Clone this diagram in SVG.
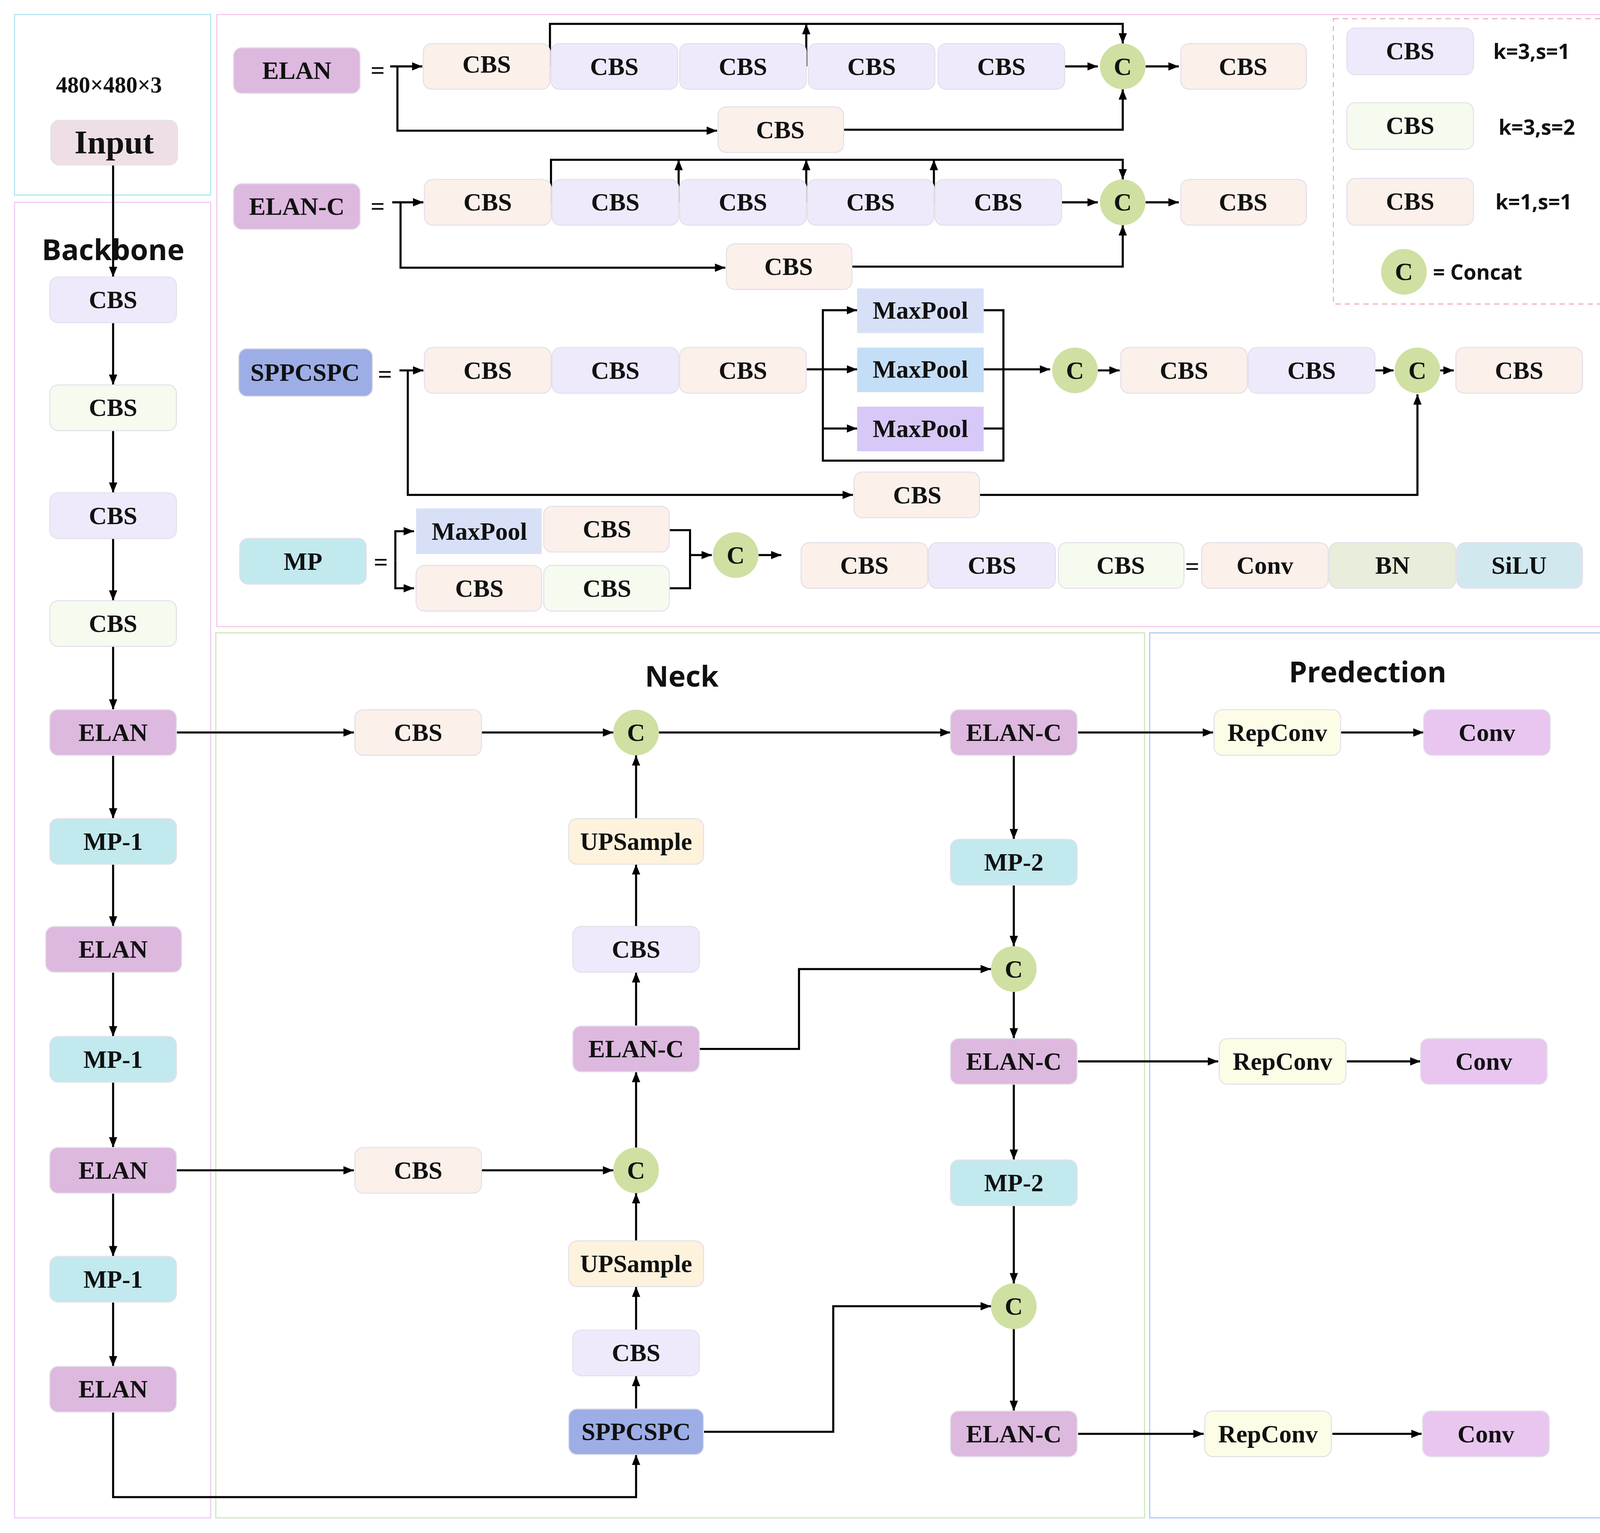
<svg xmlns="http://www.w3.org/2000/svg" width="4152" height="3925" viewBox="0 0 4152 3925">
<style>
.t{font-family:"Liberation Serif","Times New Roman",serif;font-weight:bold;font-size:24px;fill:#111;text-anchor:middle;dominant-baseline:central}
.s{font-family:"Open Sans","Liberation Sans",sans-serif;font-weight:bold;fill:#111;dominant-baseline:central}
.b{stroke:#e4e0ea;stroke-width:1}
.lav{fill:#EEEAFB}.grn{fill:#F6FBF0}.pch{fill:#FBF0EA}.elan{fill:#DDB8DF}.mp{fill:#C2E9EE}.spp{fill:#9DAEE6}
.cc{fill:#CFE0A2}.ups{fill:#FDF2DC}.rep{fill:#FDFCE6}.conv{fill:#E8C6F0}
.ln{fill:none;stroke:#000;stroke-width:2}
.a{marker-end:url(#ar)}
</style>
<defs>
<marker id="ar" markerUnits="userSpaceOnUse" markerWidth="10" markerHeight="8" refX="10" refY="4" orient="auto"><path d="M0,0 L10,4 L0,8 z" fill="#000"/></marker>
</defs>
<rect width="4152" height="3925" fill="#fff"/>
<g transform="scale(2.6564)">
<!-- panels -->
<g id="panels" fill="none">
<rect x="14" y="14" width="189" height="174" stroke="#a8e4f4"/>
<rect x="14" y="195" width="189" height="1268" stroke="#eac8f2"/>
<rect x="209" y="14" width="1343" height="590" stroke="#f5c4e6"/>
<rect x="208" y="610" width="895" height="853" stroke="#c8e6b0"/>
<rect x="1108" y="610" width="442" height="853" stroke="#a8c6f0"/>
<rect x="1285" y="18" width="262" height="275" stroke="#f0a8c0" stroke-dasharray="5,4"/>
</g>
<text class="t" x="105" y="82" style="font-size:22px">480×480×3</text>
<text class="s" x="109" y="240" text-anchor="middle" style="font-size:28px">Backbone</text>
<text class="s" x="657" y="651" text-anchor="middle" style="font-size:28px">Neck</text>
<text class="s" x="1318" y="647" text-anchor="middle" style="font-size:28px">Predection</text>

<!-- connectors -->
<g id="connectors">
<path class="ln a" d="M109,159 V267"/>
<path class="ln a" d="M109,311 V371"/>
<path class="ln a" d="M109,415 V475"/>
<path class="ln a" d="M109,519 V579"/>
<path class="ln a" d="M109,623 V684"/>
<path class="ln a" d="M109,728 V789"/>
<path class="ln a" d="M109,833 V893"/>
<path class="ln a" d="M109,937 V999"/>
<path class="ln a" d="M109,1043 V1106"/>
<path class="ln a" d="M109,1150 V1211"/>
<path class="ln a" d="M109,1255 V1317"/>
<path class="ln a" d="M109,1361 V1443 H613 V1402"/>
<path class="ln a" d="M170,706 H341"/>
<path class="ln a" d="M464,706 H591"/>
<path class="ln a" d="M635,706 H916"/>
<path class="ln a" d="M1039,706 H1169"/>
<path class="ln a" d="M1292,706 H1372"/>
<path class="ln a" d="M613,789 V728"/>
<path class="ln a" d="M613,893 V833"/>
<path class="ln a" d="M613,989 V937"/>
<path class="ln a" d="M613,1106 V1033"/>
<path class="ln a" d="M170,1128 H341"/>
<path class="ln a" d="M464,1128 H591"/>
<path class="ln a" d="M613,1196 V1150"/>
<path class="ln a" d="M613,1282 V1240"/>
<path class="ln a" d="M613,1358 V1326"/>
<path class="ln a" d="M977,728 V809"/>
<path class="ln a" d="M977,853 V912"/>
<path class="ln a" d="M977,956 V1001"/>
<path class="ln a" d="M977,1045 V1118"/>
<path class="ln a" d="M977,1162 V1237"/>
<path class="ln a" d="M977,1281 V1360"/>
<path class="ln a" d="M674,1011 H770 V934 H955"/>
<path class="ln a" d="M678,1380 H803 V1259 H955"/>
<path class="ln a" d="M1039,1023 H1174"/>
<path class="ln a" d="M1298,1023 H1369"/>
<path class="ln a" d="M1039,1382 H1160"/>
<path class="ln a" d="M1284,1382 H1370"/>
<!-- ELAN def -->
<path class="ln a" d="M376,64 H407"/>
<path class="ln a" d="M383,64 V126 H691"/>
<path class="ln a" d="M1026,64 H1058"/>
<path class="ln a" d="M1104,64 H1136"/>
<path class="ln a" d="M530,64 V23 H1082 V42"/>
<path class="ln a" d="M777,64 V23"/>
<path class="ln a" d="M813,125 H1082 V86"/>
<!-- ELAN-C def -->
<path class="ln a" d="M378,195 H408"/>
<path class="ln a" d="M386,195 V258 H699"/>
<path class="ln a" d="M1023,195 H1058"/>
<path class="ln a" d="M1104,195 H1136"/>
<path class="ln a" d="M531,195 V154 H1082 V173"/>
<path class="ln a" d="M654,195 V154"/>
<path class="ln a" d="M777,195 V154"/>
<path class="ln a" d="M900,195 V154"/>
<path class="ln a" d="M821,257 H1082 V217"/>
<!-- SPPCSPC def -->
<path class="ln a" d="M385,357 H408"/>
<path class="ln a" d="M393,357 V477 H822"/>
<path class="ln a" d="M777,356 H826"/>
<path class="ln a" d="M793,356 V299 H826"/>
<path class="ln a" d="M793,356 V413 H826"/>
<path class="ln" d="M793,413 V444 H967 V299 H948 M948,413 H967"/>
<path class="ln a" d="M948,356 H1012"/>
<path class="ln a" d="M1058,357 H1079"/>
<path class="ln a" d="M1325,357 H1343"/>
<path class="ln a" d="M1388,357 H1401"/>
<path class="ln a" d="M944,477 H1366 V380"/>
<!-- MP def -->
<path class="ln a" d="M381,540 V512 H399"/>
<path class="ln a" d="M381,540 V567 H399"/>
<path class="ln" d="M645,511 H665 V567 H645"/>
<path class="ln a" d="M665,535 H686"/>
<path class="ln a" d="M731,535 H753"/>
</g>

<!-- backbone nodes -->
<g id="input"><rect class="b" x="49" y="116" width="122" height="43" rx="8" fill="#EEDFE6"/><text class="t" x="110" y="137" style="font-size:32px">Input</text></g>
<g id="bb-cbs1"><rect class="b lav" x="48" y="267" width="122" height="44" rx="8"/><text class="t" x="109" y="289">CBS</text></g>
<g id="bb-cbs2"><rect class="b grn" x="48" y="371" width="122" height="44" rx="8"/><text class="t" x="109" y="393">CBS</text></g>
<g id="bb-cbs3"><rect class="b lav" x="48" y="475" width="122" height="44" rx="8"/><text class="t" x="109" y="497">CBS</text></g>
<g id="bb-cbs4"><rect class="b grn" x="48" y="579" width="122" height="44" rx="8"/><text class="t" x="109" y="601">CBS</text></g>
<g id="bb-elan1"><rect class="b elan" x="48" y="684" width="122" height="44" rx="8"/><text class="t" x="109" y="706">ELAN</text></g>
<g id="bb-mp1"><rect class="b mp" x="48" y="789" width="122" height="44" rx="8"/><text class="t" x="109" y="811">MP-1</text></g>
<g id="bb-elan2"><rect class="b elan" x="44" y="893" width="131" height="44" rx="8"/><text class="t" x="109" y="915">ELAN</text></g>
<g id="bb-mp2"><rect class="b mp" x="48" y="999" width="122" height="44" rx="8"/><text class="t" x="109" y="1021">MP-1</text></g>
<g id="bb-elan3"><rect class="b elan" x="48" y="1106" width="122" height="44" rx="8"/><text class="t" x="109" y="1128">ELAN</text></g>
<g id="bb-mp3"><rect class="b mp" x="48" y="1211" width="122" height="44" rx="8"/><text class="t" x="109" y="1233">MP-1</text></g>
<g id="bb-elan4"><rect class="b elan" x="48" y="1317" width="122" height="44" rx="8"/><text class="t" x="109" y="1339">ELAN</text></g>

<!-- neck nodes -->
<g id="n-cbs1"><rect class="b pch" x="342" y="684" width="122" height="44" rx="8"/><text class="t" x="403" y="706">CBS</text></g>
<g id="n-c1"><circle class="cc" cx="613" cy="706" r="22"/><text class="t" x="613" y="706">C</text></g>
<g id="n-up1"><rect class="b ups" x="548" y="789" width="130" height="44" rx="8"/><text class="t" x="613" y="811">UPSample</text></g>
<g id="n-cbs2"><rect class="b lav" x="552" y="893" width="122" height="44" rx="8"/><text class="t" x="613" y="915">CBS</text></g>
<g id="n-elanc1"><rect class="b elan" x="552" y="989" width="122" height="44" rx="8"/><text class="t" x="613" y="1011">ELAN-C</text></g>
<g id="n-c2"><circle class="cc" cx="613" cy="1128" r="22"/><text class="t" x="613" y="1128">C</text></g>
<g id="n-cbs3"><rect class="b pch" x="342" y="1106" width="122" height="44" rx="8"/><text class="t" x="403" y="1128">CBS</text></g>
<g id="n-up2"><rect class="b ups" x="548" y="1196" width="130" height="44" rx="8"/><text class="t" x="613" y="1218">UPSample</text></g>
<g id="n-cbs4"><rect class="b lav" x="552" y="1282" width="122" height="44" rx="8"/><text class="t" x="613" y="1304">CBS</text></g>
<g id="n-spp"><rect class="b spp" x="548" y="1358" width="130" height="44" rx="8"/><text class="t" x="613" y="1380">SPPCSPC</text></g>
<g id="n-elanc2"><rect class="b elan" x="916" y="684" width="122" height="44" rx="8"/><text class="t" x="977" y="706">ELAN-C</text></g>
<g id="n-mp2a"><rect class="b mp" x="916" y="809" width="122" height="44" rx="8"/><text class="t" x="977" y="831">MP-2</text></g>
<g id="n-c3"><circle class="cc" cx="977" cy="934" r="22"/><text class="t" x="977" y="934">C</text></g>
<g id="n-elanc3"><rect class="b elan" x="916" y="1001" width="122" height="44" rx="8"/><text class="t" x="977" y="1023">ELAN-C</text></g>
<g id="n-mp2b"><rect class="b mp" x="916" y="1118" width="122" height="44" rx="8"/><text class="t" x="977" y="1140">MP-2</text></g>
<g id="n-c4"><circle class="cc" cx="977" cy="1259" r="22"/><text class="t" x="977" y="1259">C</text></g>
<g id="n-elanc4"><rect class="b elan" x="916" y="1360" width="122" height="44" rx="8"/><text class="t" x="977" y="1382">ELAN-C</text></g>

<!-- prediction -->
<g id="p-rep1"><rect class="b rep" x="1170" y="684" width="122" height="44" rx="8"/><text class="t" x="1231" y="706">RepConv</text></g>
<g id="p-conv1"><rect class="b conv" x="1372" y="684" width="122" height="44" rx="8"/><text class="t" x="1433" y="706">Conv</text></g>
<g id="p-rep2"><rect class="b rep" x="1175" y="1001" width="122" height="44" rx="8"/><text class="t" x="1236" y="1023">RepConv</text></g>
<g id="p-conv2"><rect class="b conv" x="1369" y="1001" width="122" height="44" rx="8"/><text class="t" x="1430" y="1023">Conv</text></g>
<g id="p-rep3"><rect class="b rep" x="1161" y="1360" width="122" height="44" rx="8"/><text class="t" x="1222" y="1382">RepConv</text></g>
<g id="p-conv3"><rect class="b conv" x="1371" y="1360" width="122" height="44" rx="8"/><text class="t" x="1432" y="1382">Conv</text></g>

<!-- ELAN def -->
<g id="d-elan"><rect class="b elan" x="225" y="46" width="122" height="44" rx="8"/><text class="t" x="286" y="68">ELAN</text><text class="t" x="364" y="68">=</text></g>
<g id="d-elan-nodes">
<rect class="b pch" x="408" y="42" width="122" height="44" rx="8"/><text class="t" x="469" y="62">CBS</text>
<rect class="b lav" x="531" y="42" width="122" height="44" rx="8"/><text class="t" x="592" y="64">CBS</text>
<rect class="b lav" x="655" y="42" width="122" height="44" rx="8"/><text class="t" x="716" y="64">CBS</text>
<rect class="b lav" x="779" y="42" width="122" height="44" rx="8"/><text class="t" x="840" y="64">CBS</text>
<rect class="b lav" x="904" y="42" width="122" height="44" rx="8"/><text class="t" x="965" y="64">CBS</text>
<circle class="cc" cx="1082" cy="64" r="22"/><text class="t" x="1082" y="64">C</text>
<rect class="b pch" x="1138" y="42" width="121" height="44" rx="8"/><text class="t" x="1198" y="64">CBS</text>
<rect class="b pch" x="692" y="103" width="121" height="44" rx="8"/><text class="t" x="752" y="125">CBS</text>
</g>
<!-- ELAN-C def -->
<g id="d-elanc"><rect class="b elan" x="225" y="177" width="122" height="44" rx="8"/><text class="t" x="286" y="199">ELAN-C</text><text class="t" x="364" y="199">=</text></g>
<g id="d-elanc-nodes">
<rect class="b pch" x="409" y="173" width="122" height="44" rx="8"/><text class="t" x="470" y="195">CBS</text>
<rect class="b lav" x="532" y="173" width="122" height="44" rx="8"/><text class="t" x="593" y="195">CBS</text>
<rect class="b lav" x="655" y="173" width="122" height="44" rx="8"/><text class="t" x="716" y="195">CBS</text>
<rect class="b lav" x="778" y="173" width="122" height="44" rx="8"/><text class="t" x="839" y="195">CBS</text>
<rect class="b lav" x="901" y="173" width="122" height="44" rx="8"/><text class="t" x="962" y="195">CBS</text>
<circle class="cc" cx="1082" cy="195" r="22"/><text class="t" x="1082" y="195">C</text>
<rect class="b pch" x="1138" y="173" width="121" height="44" rx="8"/><text class="t" x="1198" y="195">CBS</text>
<rect class="b pch" x="700" y="235" width="121" height="44" rx="8"/><text class="t" x="760" y="257">CBS</text>
</g>
<!-- SPPCSPC def -->
<g id="d-spp"><rect class="b spp" x="230" y="336" width="129" height="46" rx="8"/><text class="t" x="294" y="359">SPPCSPC</text><text class="t" x="371" y="361">=</text></g>
<g id="d-spp-nodes">
<rect class="b pch" x="409" y="335" width="122" height="44" rx="8"/><text class="t" x="470" y="357">CBS</text>
<rect class="b lav" x="532" y="335" width="122" height="44" rx="8"/><text class="t" x="593" y="357">CBS</text>
<rect class="b pch" x="655" y="335" width="122" height="44" rx="8"/><text class="t" x="716" y="357">CBS</text>
<rect x="826" y="278" width="122" height="43" fill="#D8E0F8"/><text class="t" x="887" y="299">MaxPool</text>
<rect x="826" y="335" width="122" height="43" fill="#C5DEF7"/><text class="t" x="887" y="356">MaxPool</text>
<rect x="826" y="392" width="122" height="43" fill="#D8C8F7"/><text class="t" x="887" y="413">MaxPool</text>
<circle class="cc" cx="1036" cy="357" r="22"/><text class="t" x="1036" y="357">C</text>
<rect class="b pch" x="1080" y="335" width="122" height="44" rx="8"/><text class="t" x="1141" y="357">CBS</text>
<rect class="b lav" x="1203" y="335" width="122" height="44" rx="8"/><text class="t" x="1264" y="357">CBS</text>
<circle class="cc" cx="1366" cy="357" r="22"/><text class="t" x="1366" y="357">C</text>
<rect class="b pch" x="1403" y="335" width="122" height="44" rx="8"/><text class="t" x="1464" y="357">CBS</text>
<rect class="b pch" x="823" y="455" width="121" height="44" rx="8"/><text class="t" x="884" y="477">CBS</text>
</g>
<!-- MP def -->
<g id="d-mp"><rect class="b mp" x="231" y="519" width="122" height="44" rx="8"/><text class="t" x="292" y="541">MP</text><text class="t" x="367" y="542">=</text></g>
<g id="d-mp-nodes">
<rect x="401" y="490" width="121" height="44" fill="#D8E0F8"/><text class="t" x="462" y="512">MaxPool</text>
<rect class="b pch" x="524" y="488" width="121" height="44" rx="8"/><text class="t" x="585" y="510">CBS</text>
<rect class="b pch" x="401" y="545" width="121" height="44" rx="8"/><text class="t" x="462" y="567">CBS</text>
<rect class="b grn" x="524" y="545" width="121" height="44" rx="8"/><text class="t" x="585" y="567">CBS</text>
<circle class="cc" cx="709" cy="535" r="22"/><text class="t" x="709" y="535">C</text>
</g>
<!-- CBS def -->
<g id="d-cbs">
<rect class="b pch" x="772" y="523" width="122" height="44" rx="8"/><text class="t" x="833" y="545">CBS</text>
<rect class="b lav" x="895" y="523" width="122" height="44" rx="8"/><text class="t" x="956" y="545">CBS</text>
<rect class="b grn" x="1020" y="523" width="121" height="44" rx="8"/><text class="t" x="1080" y="545">CBS</text>
<text class="t" x="1149" y="546">=</text>
<rect class="b pch" x="1158" y="523" width="122" height="44" rx="8"/><text class="t" x="1219" y="545">Conv</text>
<rect class="b" x="1281" y="523" width="122" height="44" rx="8" fill="#E8EEDB"/><text class="t" x="1342" y="545">BN</text>
<rect class="b" x="1404" y="523" width="121" height="44" rx="8" fill="#D0E8EE"/><text class="t" x="1464" y="545">SiLU</text>
</g>
<!-- legend -->
<g id="legend">
<rect class="b lav" x="1298" y="27" width="122" height="45" rx="8"/><text class="t" x="1359" y="49">CBS</text>
<text class="s" x="1476" y="49" text-anchor="middle" style="font-size:20px">k=3,s=1</text>
<rect class="b grn" x="1298" y="99" width="122" height="45" rx="8"/><text class="t" x="1359" y="121">CBS</text>
<text class="s" x="1481" y="122" text-anchor="middle" style="font-size:20px">k=3,s=2</text>
<rect class="b pch" x="1298" y="172" width="122" height="45" rx="8"/><text class="t" x="1359" y="194">CBS</text>
<text class="s" x="1478" y="194" text-anchor="middle" style="font-size:20px">k=1,s=1</text>
<circle class="cc" cx="1353" cy="262" r="22"/><text class="t" x="1353" y="262">C</text>
<text class="s" x="1381" y="262" style="font-size:20px">= Concat</text>
</g>
</g>
</svg>
